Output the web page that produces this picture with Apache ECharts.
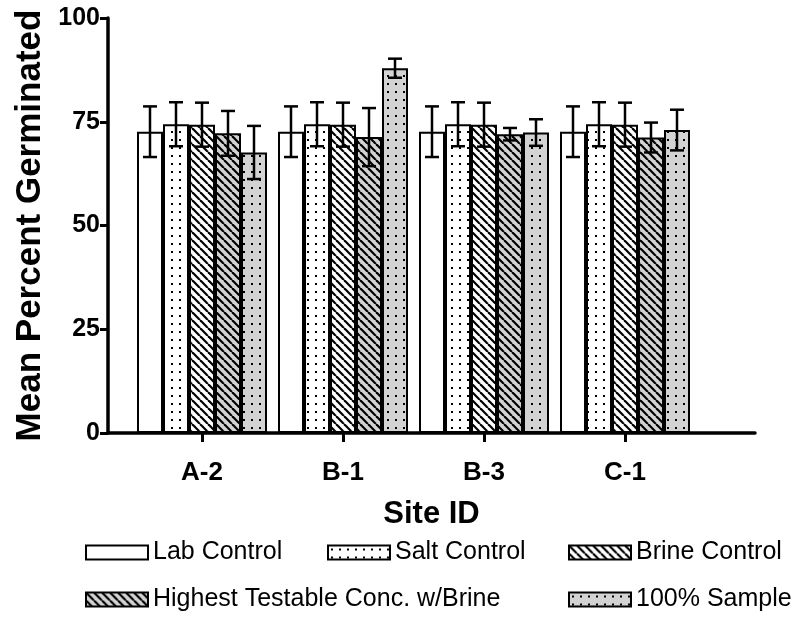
<!DOCTYPE html>
<html>
<head>
<meta charset="utf-8">
<script src="https://cdn.jsdelivr.net/npm/echarts@6/dist/echarts.min.js"></script>
<style>
html,body{margin:0;padding:0;background:#fff;}
#chart{width:800px;height:618px;}
</style>
</head>
<body>
<div id="chart"></div>
<script>
// ---- data ----
var categories = ['A-2', 'B-1', 'B-3', 'C-1'];
var seriesNames = ['Lab Control', 'Salt Control', 'Brine Control', 'Highest Testable Conc. w/Brine', '100% Sample'];
var labControl = [72.6, 72.6, 72.6, 72.6];
var labControlErr = [6.1, 6.1, 6.1, 6.1];
var saltControl = [74.4, 74.4, 74.4, 74.4];
var saltControlErr = [5.3, 5.3, 5.3, 5.3];
var brineControl = [74.3, 74.3, 74.3, 74.3];
var brineControlErr = [5.3, 5.3, 5.3, 5.3];
var highestConc = [72.2, 71.3, 72.0, 71.2];
var highestConcErr = [5.4, 7.0, 1.5, 3.6];
var sample100 = [67.6, 87.9, 72.4, 73.0];
var sample100Err = [6.4, 2.3, 3.2, 4.9];
var yTicks = [0, 25, 50, 75, 100];

var means = [labControl, saltControl, brineControl, highestConc, sample100];
var errs = [labControlErr, saltControlErr, brineControlErr, highestConcErr, sample100Err];

// ---- patterns ----
function makeCanvas(w, h) { var c = document.createElement('canvas'); c.width = w; c.height = h; return c; }
function dotPattern(bg) {
  var c = makeCanvas(8, 8), g = c.getContext('2d');
  g.fillStyle = bg; g.fillRect(0, 0, 8, 8);
  g.fillStyle = '#000'; g.fillRect(3, 3, 2, 2);
  return { image: c, repeat: 'repeat' };
}
function hatchPattern(bg) {
  var c = makeCanvas(8, 8), g = c.getContext('2d');
  g.fillStyle = bg; g.fillRect(0, 0, 8, 8);
  g.strokeStyle = '#000'; g.lineWidth = 2.2;
  [-8, 0, 8].forEach(function (k) { g.beginPath(); g.moveTo(k, 0); g.lineTo(k + 8, 8); g.stroke(); });
  return { image: c, repeat: 'repeat' };
}
var GREY = '#d3d3d3';
var fills = ['#ffffff', dotPattern('#ffffff'), hatchPattern('#ffffff'), hatchPattern(GREY), dotPattern(GREY)];

var BAR_W = 26;
var FONT = '"Liberation Sans", Arial, Helvetica, sans-serif';

var barSeries = seriesNames.map(function (name, i) {
  return {
    name: name, type: 'bar', xAxisIndex: 0, yAxisIndex: 0,
    barWidth: BAR_W, barGap: '0%',
    data: means[i],
    itemStyle: { color: fills[i], borderColor: '#000', borderWidth: 2 },
    emphasis: { disabled: true },
    z: 2
  };
});

var errData = [];
for (var s = 0; s < seriesNames.length; s++) {
  for (var c = 0; c < categories.length; c++) {
    errData.push([c, s, means[s][c], errs[s][c]]);
  }
}

var errorSeries = {
  type: 'custom', xAxisIndex: 0, yAxisIndex: 0, z: 5,
  data: errData,
  encode: { x: 0, y: 2 },
  renderItem: function (params, api) {
    var cat = api.value(0), si = api.value(1), m = api.value(2), e = api.value(3);
    var center = api.coord([cat, m]);
    var x = center[0] + (si - 2) * BAR_W;
    var yt = api.coord([cat, m + e])[1];
    var yb = api.coord([cat, m - e])[1];
    var hw = 7;
    var st = { stroke: '#000', lineWidth: 2.5 };
    return { type: 'group', children: [
      { type: 'line', shape: { x1: x, y1: yt, x2: x, y2: yb }, style: st },
      { type: 'line', shape: { x1: x - hw, y1: yt, x2: x + hw, y2: yt }, style: st },
      { type: 'line', shape: { x1: x - hw, y1: yb, x2: x + hw, y2: yb }, style: st }
    ]};
  }
};

function legend(name, left, top) {
  return {
    data: [name], left: left, top: top, padding: 0, selectedMode: false,
    icon: 'rect',
    itemWidth: 62, itemHeight: 14, itemGap: 0,
    textStyle: { fontFamily: FONT, fontSize: 25, color: '#000' }
  };
}

var option = {
  animation: false,
  backgroundColor: '#fff',
  grid: [
    { left: 131.5, width: 564, top: 18, height: 415 },
    { left: 108, width: 647, top: 18, height: 415 }
  ],
  xAxis: [
    { type: 'category', gridIndex: 0, data: categories,
      axisLine: { show: false },
      axisTick: { show: true, alignWithLabel: true, length: 9, lineStyle: { color: '#000', width: 3 } },
      axisLabel: { fontFamily: FONT, fontWeight: 'bold', fontSize: 26, color: '#000', margin: 27 }
    },
    { type: 'value', gridIndex: 1, min: 0, max: 1,
      axisLine: { show: true, lineStyle: { color: '#000', width: 3.5 } },
      axisTick: { show: false }, axisLabel: { show: false }, splitLine: { show: false },
      name: 'Site ID', nameLocation: 'middle', nameGap: 66,
      nameTextStyle: { fontFamily: FONT, fontWeight: 'bold', fontSize: 31, color: '#000' }
    }
  ],
  yAxis: [
    { type: 'value', gridIndex: 0, min: 0, max: 100, interval: 25, show: false, splitLine: { show: false } },
    { type: 'value', gridIndex: 1, min: 0, max: 100, interval: 25,
      axisLine: { show: true, lineStyle: { color: '#000', width: 3.5 } },
      axisTick: { show: true, length: 8, lineStyle: { color: '#000', width: 3 } },
      axisLabel: { fontFamily: FONT, fontWeight: 'bold', fontSize: 25, color: '#000', margin: 8,
        formatter: function (v) { return yTicks.indexOf(v) >= 0 ? String(v) : ''; } },
      splitLine: { show: false },
      name: 'Mean Percent Germinated', nameLocation: 'middle', nameGap: 58, nameRotate: 90,
      nameTextStyle: { fontFamily: FONT, fontWeight: 'bold', fontSize: 35, color: '#000' }
    }
  ],
  legend: [
    legend(seriesNames[0], 85, 540),
    legend(seriesNames[1], 327, 540),
    legend(seriesNames[2], 568, 540),
    legend(seriesNames[3], 85, 587),
    legend(seriesNames[4], 568, 587)
  ],
  series: barSeries.concat([errorSeries])
};

var chart = echarts.init(document.getElementById('chart'), null, { renderer: 'canvas' });
chart.setOption(option);
</script>
</body>
</html>
